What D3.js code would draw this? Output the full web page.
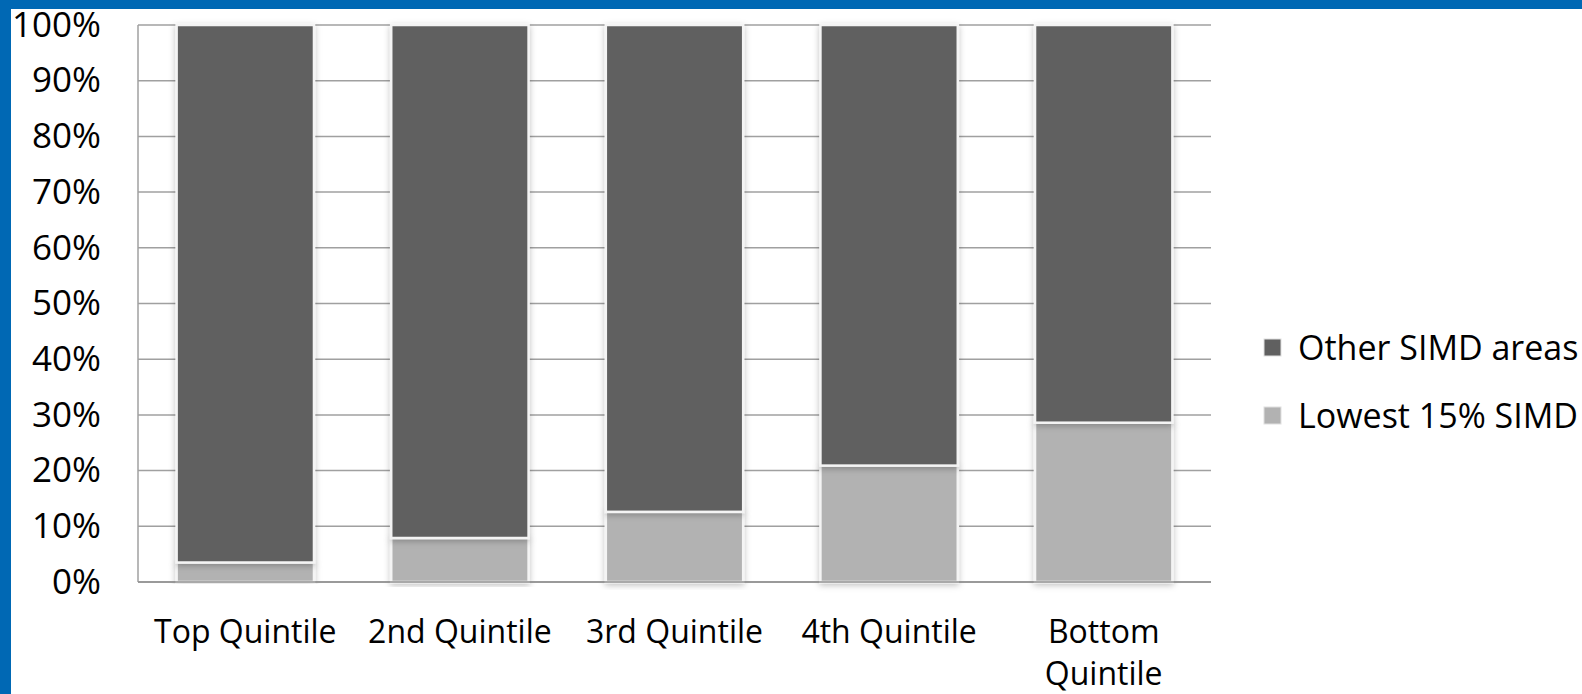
<!DOCTYPE html>
<html>
<head>
<meta charset="utf-8">
<script src="https://cdn.jsdelivr.net/npm/d3@7"></script>
<style>
  html, body { margin: 0; padding: 0; background: #fff; }
  body { width: 1582px; height: 694px; overflow: hidden; }
  text { font-family: "Open Sans", sans-serif; fill: #000; }
</style>
</head>
<body>
<div id="chart"></div>
<script>
// quintiles along the x axis
const categories = ["Top Quintile", "2nd Quintile", "3rd Quintile", "4th Quintile", "Bottom Quintile"];
// share (%) of each quintile in the lowest 15% SIMD datazones
const lowest15 = [3.5, 7.9, 12.6, 20.9, 28.6];
// share (%) in all other SIMD areas
const otherAreas = [96.5, 92.1, 87.4, 79.1, 71.4];
const seriesNames = ["Lowest 15% SIMD", "Other SIMD areas"];
const yTicks = [0, 10, 20, 30, 40, 50, 60, 70, 80, 90, 100];

const W = 1582, H = 694;
const margin = { top: 25, right: 371, bottom: 112, left: 138 };
const width = W - margin.left - margin.right;
const height = H - margin.top - margin.bottom;
const colors = { "Lowest 15% SIMD": "#b2b2b2", "Other SIMD areas": "#606060" };

const svg = d3.select("#chart").append("svg")
    .attr("width", W)
    .attr("height", H);

// soft shadow behind bars
const defs = svg.append("defs");
const f = defs.append("filter").attr("id", "shadow")
    .attr("x", "-10%").attr("y", "-10%").attr("width", "120%").attr("height", "120%");
f.append("feDropShadow").attr("dx", 0).attr("dy", 2).attr("stdDeviation", 3)
    .attr("flood-color", "#000").attr("flood-opacity", 0.25);

// blue slide frame
svg.append("rect").attr("x", 0).attr("y", 0).attr("width", W).attr("height", 9).attr("fill", "#0068b4");
svg.append("rect").attr("x", 0).attr("y", 0).attr("width", 11).attr("height", H).attr("fill", "#0068b4");

const g = svg.append("g")
    .attr("transform", "translate(" + margin.left + "," + margin.top + ")");

const x = d3.scaleBand()
    .domain(categories)
    .range([0, width])
    .paddingInner(0.36)
    .paddingOuter(0.18);

const y = d3.scaleLinear()
    .domain([0, 100])
    .range([height, 0]);

// gridlines
g.append("g")
    .selectAll("line")
    .data(yTicks)
    .join("line")
    .attr("x1", 0).attr("x2", width)
    .attr("y1", d => y(d)).attr("y2", d => y(d))
    .attr("stroke", "#a0a0a0")
    .attr("stroke-width", 1.5);

// left axis line
g.append("line").attr("x1", 0).attr("x2", 0).attr("y1", 0).attr("y2", height)
    .attr("stroke", "#a0a0a0").attr("stroke-width", 1.5);

const rows = categories.map((c, i) => ({ cat: c, "Lowest 15% SIMD": lowest15[i], "Other SIMD areas": otherAreas[i] }));
const stacked = d3.stack().keys(seriesNames)(rows);

g.append("g").selectAll("g")
    .data(stacked)
    .join("g")
    .attr("fill", d => colors[d.key])
    .selectAll("rect")
    .data(d => d)
    .join("rect")
    .attr("x", d => x(d.data.cat))
    .attr("y", d => y(d[1]))
    .attr("width", x.bandwidth())
    .attr("height", d => y(d[0]) - y(d[1]))
    .attr("stroke", "#f4f4f4")
    .attr("stroke-width", 2.5)
    .attr("filter", "url(#shadow)");

g.append("line").attr("x1", 0).attr("x2", width).attr("y1", height).attr("y2", height)
    .attr("stroke", "#909090").attr("stroke-width", 1.5);

// y axis labels
const yAxis = g.append("g")
    .call(d3.axisLeft(y).tickValues(yTicks).tickFormat(d => d + "%").tickSize(0).tickPadding(37));
yAxis.select(".domain").remove();
yAxis.selectAll("text").style("font-size", "35px").style("font-family", "Open Sans").attr("fill", "#000");

// x axis labels, wrapped like the original
const xLabels = g.append("g")
    .attr("transform", "translate(0," + height + ")")
    .selectAll("text")
    .data(categories)
    .join("text")
    .attr("x", d => x(d) + x.bandwidth() / 2)
    .attr("y", 61)
    .attr("text-anchor", "middle")
    .style("font-size", "32px");
xLabels.each(function(d) {
    const t = d3.select(this);
    const parts = d === "Bottom Quintile" ? ["Bottom", "Quintile"] : [d];
    parts.forEach((p, i) => {
        t.append("tspan").attr("x", x(d) + x.bandwidth() / 2).attr("dy", i ? 42 : 0).text(p);
    });
});

// legend
const legend = svg.append("g")
    .attr("transform", "translate(1264,339)");
const items = legend.selectAll("g")
    .data(["Other SIMD areas", "Lowest 15% SIMD"])
    .join("g")
    .attr("transform", (d, i) => "translate(0," + i * 68 + ")");
items.append("rect")
    .attr("width", 17).attr("height", 17)
    .attr("fill", d => colors[d])
    .attr("stroke", "#e0e0e0").attr("stroke-width", 1);
items.append("text")
    .attr("x", 34).attr("y", 9)
    .attr("dy", "0.35em")
    .style("font-size", "34px")
    .text(d => d);
</script>
</body>
</html>
